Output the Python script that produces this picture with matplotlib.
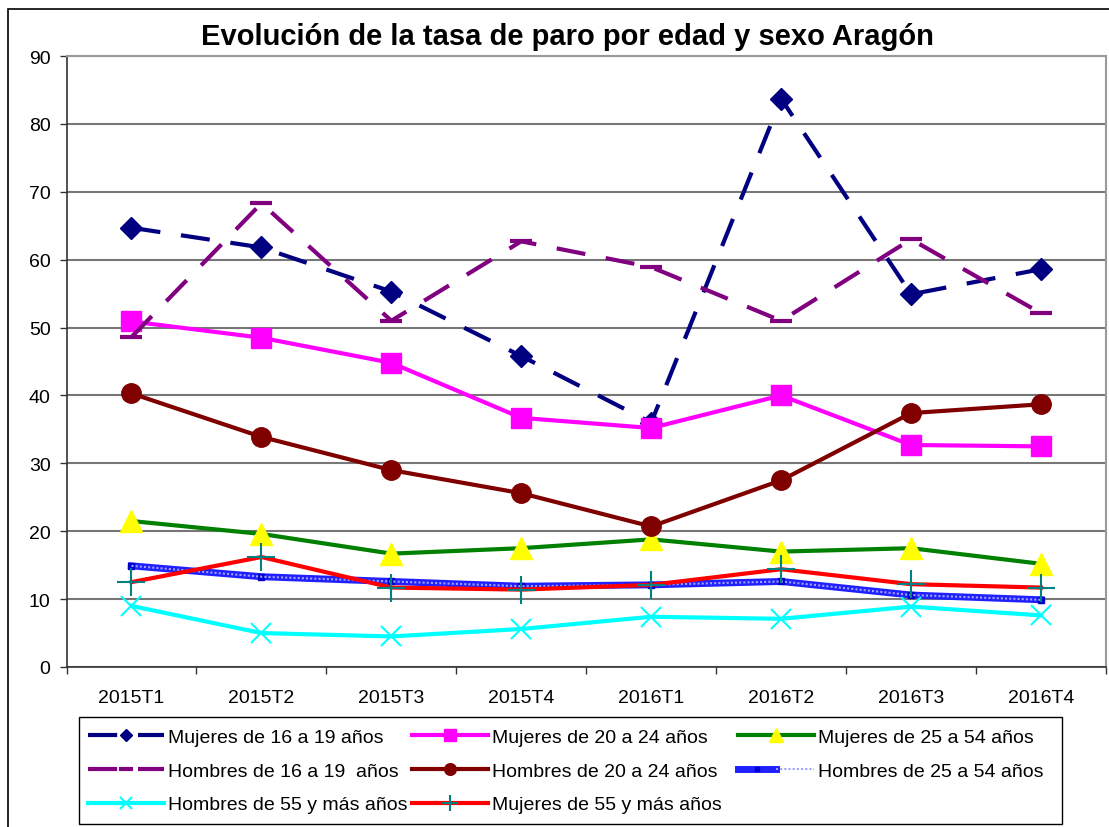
import numpy as np
import matplotlib
matplotlib.use("Agg")
import matplotlib.pyplot as plt
from matplotlib.patches import Rectangle
from matplotlib.legend_handler import HandlerTuple

plt.rcParams['font.family'] = ['Liberation Sans', 'DejaVu Sans']

periodos = ['2015T1', '2015T2', '2015T3', '2015T4', '2016T1', '2016T2', '2016T3', '2016T4']

mujeres_16_19 = [64.7, 61.8, 55.3, 45.8, 36.0, 83.7, 54.9, 58.6]
hombres_16_19 = [48.6, 68.3, 51.0, 62.7, 58.9, 51.0, 63.0, 52.1]
mujeres_20_24 = [50.9, 48.5, 44.8, 36.7, 35.2, 40.0, 32.7, 32.5]
hombres_20_24 = [40.3, 33.9, 29.0, 25.6, 20.7, 27.5, 37.4, 38.7]
mujeres_25_54 = [21.5, 19.6, 16.7, 17.5, 18.8, 17.0, 17.5, 15.2]
hombres_25_54 = [14.9, 13.3, 12.6, 11.9, 12.1, 12.6, 10.6, 9.9]
hombres_55 = [9.0, 5.0, 4.5, 5.6, 7.4, 7.1, 8.9, 7.6]
mujeres_55 = [12.5, 16.2, 11.7, 11.4, 12.1, 14.4, 12.2, 11.7]

W, H = 1109, 828
fig = plt.figure(figsize=(W / 100, H / 100), dpi=100)
ax = fig.add_axes([66.5 / W, 1 - 668 / H, (1106 - 66.5) / W, (668 - 57) / H])

x = np.arange(len(periodos)) + 0.5
lw = 3

h_m1619, = ax.plot(x, mujeres_16_19, color='#000080', lw=lw, ls=(0, (7, 5)),
                   marker='D', ms=11)
h_m2024, = ax.plot(x, mujeres_20_24, color='#FF00FF', lw=lw, marker='s', ms=15)
h_m2554, = ax.plot(x, mujeres_25_54, color='#008000', lw=lw, marker='^', ms=16,
                   mfc='#FFFF00', mec='#FFFF00')
h_h1619, = ax.plot(x, hombres_16_19, color='#800080', lw=lw, ls=(0, (7, 5)),
                   marker='_', ms=16, mew=3)
h_h2024, = ax.plot(x, hombres_20_24, color='#800000', lw=lw, marker='o', ms=14)
h_h2554a, = ax.plot(x, hombres_25_54, color='#2020FF', lw=5, marker='s', ms=4,
                    mfc='#0000CC', mec='#0000CC')
h_h2554b, = ax.plot(x, hombres_25_54, color='#A0A0FF', lw=1.5, ls=(0, (1, 1)))
h_h55, = ax.plot(x, hombres_55, color='#00FFFF', lw=lw, marker='x', ms=15, mew=1.5)
h_m55, = ax.plot(x, mujeres_55, color='#FF0000', lw=lw, marker='+', ms=20, mew=1.5,
                 mec='#008080')

ax.set_xlim(0, len(periodos))
ax.set_ylim(0, 90)
ax.set_yticks(np.arange(0, 91, 10))
ax.set_xticks(x)
ax.set_xticklabels(periodos)
ax.set_xticks(np.arange(0, len(periodos) + 1), minor=True)
ax.tick_params(axis='x', which='major', length=0, pad=16, labelsize=14)
ax.tick_params(axis='x', which='minor', length=5, width=1, color='#333333')
ax.tick_params(axis='y', length=5, width=1, color='#333333', pad=6.5, labelsize=14)
ax.grid(axis='y', color='#777777', lw=1.5)
ax.set_axisbelow(True)
for s in ['top', 'right']:
    ax.spines[s].set_color('#999999')
    ax.spines[s].set_linewidth(1.5)
for s in ['left', 'bottom']:
    ax.spines[s].set_color('#333333')
    ax.spines[s].set_linewidth(1.2)

fig.text(567 / W, 1 - 37 / H, 'Evolución de la tasa de paro por edad y sexo Aragón',
         ha='center', va='center', fontsize=21, fontweight='bold')

# legend: excel uses equal column widths, so one legend per column
columnas = [
    ([h_m1619, h_h1619, h_h55],
     ['Mujeres de 16 a 19 años', 'Hombres de 16 a 19  años', 'Hombres de 55 y más años']),
    ([h_m2024, h_h2024, h_m55],
     ['Mujeres de 20 a 24 años', 'Hombres de 20 a 24 años', 'Mujeres de 55 y más años']),
    ([h_m2554, (h_h2554a, h_h2554b)],
     ['Mujeres de 25 a 54 años', 'Hombres de 25 a 54 años']),
]
col_x = [88, 412, 738]
for (hs, ls_), cx in zip(columnas, col_x):
    fig.legend(hs, ls_, loc='upper left', bbox_to_anchor=(cx / W, 1 - 729 / H),
               borderaxespad=0, borderpad=0, frameon=False, fontsize=14,
               handlelength=3.9, handletextpad=0.2, labelspacing=0.84,
               markerscale=0.6, handler_map={tuple: HandlerTuple(ndivide=None, pad=0)})

fig.patches.append(Rectangle((79 / W, 1 - 825 / H), (1062 - 79) / W, (825 - 718) / H,
                             transform=fig.transFigure, fill=False, edgecolor='black', lw=1))
fig.patches.append(Rectangle((8 / W, -0.1), 1.2, 1 - 10 / H + 0.1, transform=fig.transFigure,
                             fill=False, edgecolor='black', lw=1.2))

fig.savefig('out.png', dpi=100)
